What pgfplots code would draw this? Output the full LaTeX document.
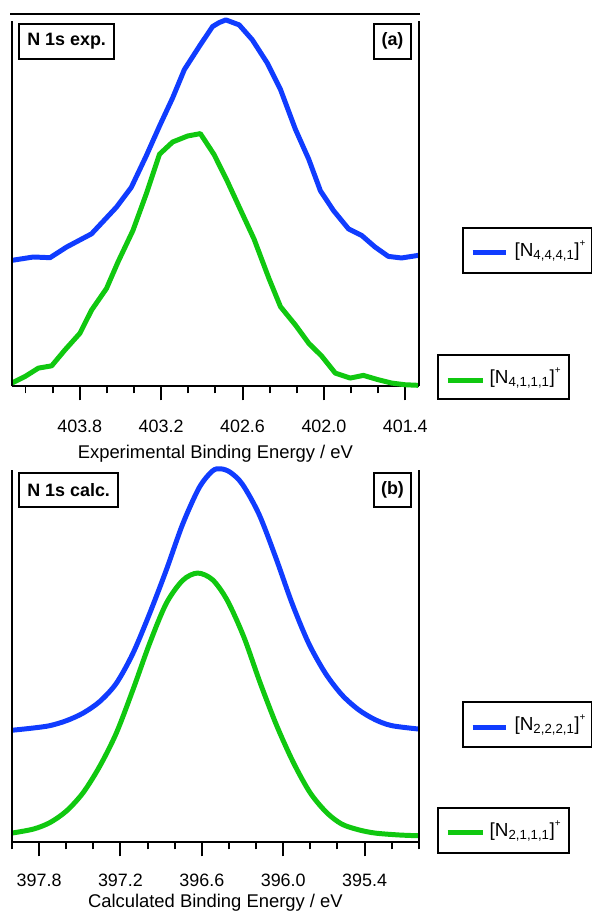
\documentclass[border=0pt]{standalone}
\usepackage{pgfplots}
\pgfplotsset{compat=1.18}
\usepackage{fontspec}
\setmainfont{Liberation Sans}
\definecolor{cblue}{RGB}{16,60,255}
\definecolor{cgreen}{RGB}{16,200,16}
\newcommand{\legtext}[1]{\fontsize{19}{19}\selectfont [N\textsubscript{#1}]\raisebox{1.0ex}{\fontsize{10}{10}\selectfont +}}
\pgfplotsset{
  common/.style={
    scale only axis, width=409pt, anchor=south west,
    axis x line*=bottom, axis y line=none, ytick=\empty,
    x dir=reverse, ymin=0, clip=false,
    tick align=outside, major tick length=14pt, minor tick length=7pt,
    every tick/.style={black, line width=2pt},
    axis line style={line width=2pt},
    tick label style={font=\fontsize{18}{18}\selectfont},
    x tick label style={/pgf/number format/fixed, /pgf/number format/fixed zerofill, /pgf/number format/precision=1, /pgf/number format/assume math mode=true, /pgf/number format/1000 sep={}},
    xlabel style={font=\fontsize{18.5}{18.5}\selectfont, at={(axis description cs:0.5,0)}, anchor=center},
  }
}
\begin{document}
\begin{tikzpicture}[x=1pt,y=1pt]
\path (0,0) rectangle (596,915);
% ---------- top panel ----------
\begin{axis}[common,
  at={(12pt,526.7pt)}, height=374.3pt,
  xmin=401.3, xmax=404.3, ymax=374.3,
  xtick={401.4,402.0,402.6,403.2,403.8},
  minor xtick={401.6,401.8,402.2,402.4,402.8,403.0,403.4,403.6,404.0,404.2},
  xlabel={Experimental Binding Energy / eV},
  xlabel style={yshift=-68pt},
  x tick label style={yshift=-16pt},
]
\addplot[cblue, line width=5pt, line join=round] coordinates {
(404.300,126.6)(404.142,130)(404.019,129.3)(403.897,140)(403.713,153.3)
(403.530,180)(403.420,200)(403.310,231.6)(403.212,261.6)(403.115,290)
(403.029,318.3)(402.919,341.6)(402.821,361.6)(402.772,365.6)(402.723,368.3)
(402.625,363.3)(402.528,348.3)(402.418,325)(402.320,298.3)(402.210,258.3)
(402.112,228.3)(402.026,196.6)(401.929,176.6)(401.819,158.3)(401.721,151.6)
(401.623,140)(401.525,130.6)(401.428,129)(401.305,131.6)};
\addplot[cgreen, line width=5pt, line join=round] coordinates {
(404.300,3.3)(404.202,10)(404.105,18.3)(404.007,20.6)(403.909,36.6)
(403.799,53.3)(403.713,76.6)(403.603,98.3)(403.518,125)(403.408,156.6)
(403.310,193.3)(403.212,233.3)(403.115,245.6)(403.005,251.6)(402.911,254)
(402.810,233)(402.715,207)(402.617,178)(402.515,148)(402.405,108.3)
(402.320,80)(402.210,61.6)(402.112,43.3)(402.014,30)(401.916,13.3)
(401.806,8.3)(401.709,11)(401.599,6.6)(401.501,3.3)(401.403,1.6)(401.305,1)};
\draw[line width=2pt] (rel axis cs:0,0) -- (rel axis cs:0,0.982);
\draw[line width=2pt] (rel axis cs:1,0) -- (rel axis cs:1,0.982);
\draw[line width=2pt] (rel axis cs:-0.004,1) -- (rel axis cs:1.003,1);
\end{axis}
% ---------- bottom panel ----------
\begin{axis}[common,
  at={(12pt,68.3pt)}, height=377pt,
  xmin=395.0, xmax=398.0, ymax=377,
  xtick={395.4,396.0,396.6,397.2,397.8},
  minor xtick={395.0,395.2,395.6,395.8,396.2,396.4,396.8,397.0,397.4,397.6,398.0},
  xlabel={Calculated Binding Energy / eV},
  xlabel style={yshift=-61pt},
  x tick label style={yshift=-14pt},
]
\addplot[cblue, line width=5pt, smooth] coordinates {
(398.000,112.7)(397.842,115)(397.719,117.4)(397.597,122.4)(397.475,130)
(397.352,141.7)(397.230,160)(397.108,190)(396.985,230)(396.863,273.4)
(396.741,320)(396.619,356.7)(396.521,373.4)(396.460,375.5)(396.390,372)
(396.301,360)(396.179,330)(396.056,286.7)(395.934,240)(395.812,200)
(395.689,170)(395.568,148.4)(395.445,133.4)(395.323,123.4)(395.201,117.4)(395.005,114)};
\addplot[cgreen, line width=5pt, smooth] coordinates {
(398.000,9.4)(397.842,13.4)(397.719,20)(397.597,31.7)(397.475,50)
(397.352,76.7)(397.230,110)(397.108,153.4)(396.985,200)(396.863,240)
(396.741,263.4)(396.631,270.7)(396.521,264)(396.413,243.4)(396.291,206.7)
(396.169,160)(396.046,116.7)(395.924,80)(395.802,50)(395.680,30)
(395.568,18.4)(395.445,12.7)(395.323,9.4)(395.150,7.5)(395.005,6.7)};
\draw[line width=2pt] (rel axis cs:0,0) -- (rel axis cs:0,0.994);
\draw[line width=2pt] (rel axis cs:1,0) -- (rel axis cs:1,0.994);
\end{axis}
% ---------- panel labels ----------
\tikzset{lab/.style={draw, line width=2pt, inner sep=0pt, font=\fontsize{18}{18}\selectfont\bfseries}}
\node[lab, minimum width=96pt, minimum height=35pt] at (67,873.5) {N 1s exp.};
\node[lab, minimum width=37pt, minimum height=35pt] at (394.5,873.5) {(a)};
\node[lab, minimum width=100pt, minimum height=35pt] at (69,422.5) {N 1s calc.};
\node[lab, minimum width=37pt, minimum height=35pt] at (394.5,422.5) {(b)};
% ---------- legends ----------
\tikzset{leg/.style={draw, line width=2pt, minimum height=45pt, inner sep=0pt}}
\node[leg, minimum width=129pt] at (530,663.5) {};
\draw[cblue, line width=5pt] (475,661) -- (509,661);
\node[anchor=west, inner sep=0pt] at (517,663) {\legtext{4,4,4,1}};
\node[leg, minimum width=131pt] at (506,536) {};
\draw[cgreen, line width=5pt] (450,533) -- (485,533);
\node[anchor=west, inner sep=0pt] at (492,535) {\legtext{4,1,1,1}};
\node[leg, minimum width=129pt] at (530,187) {};
\draw[cblue, line width=5pt] (475,184) -- (509,184);
\node[anchor=west, inner sep=0pt] at (517,186) {\legtext{2,2,2,1}};
\node[leg, minimum width=131pt] at (506,80.5) {};
\draw[cgreen, line width=5pt] (450,78) -- (485,78);
\node[anchor=west, inner sep=0pt] at (492,80) {\legtext{2,1,1,1}};
\end{tikzpicture}
\end{document}
